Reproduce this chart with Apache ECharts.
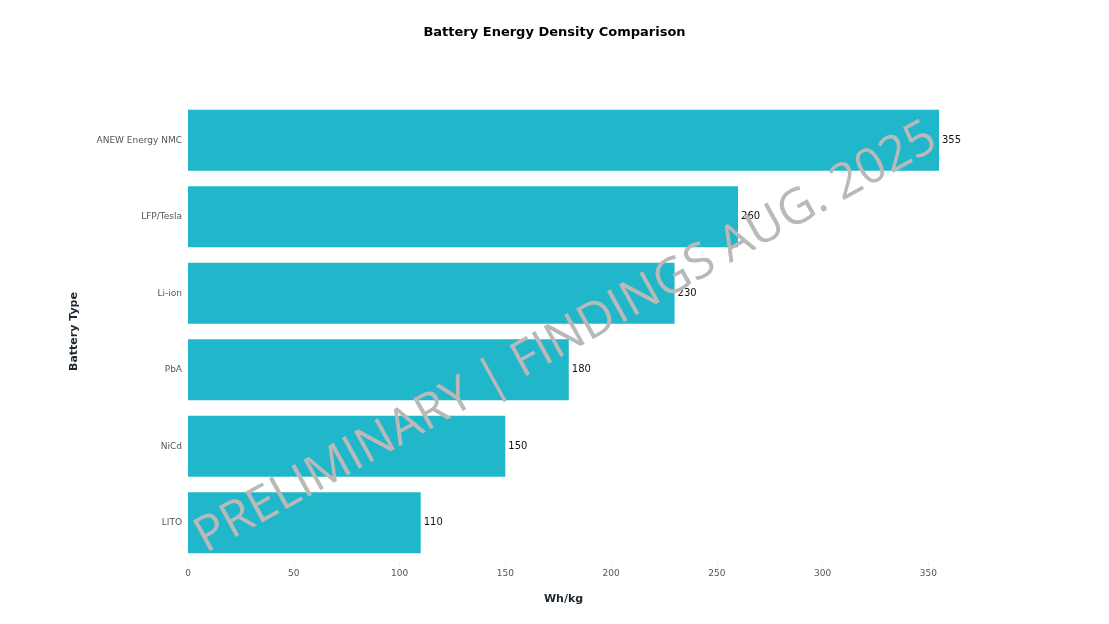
<!DOCTYPE html>
<html><head><meta charset="utf-8">
<script src="https://cdn.jsdelivr.net/npm/echarts@6/dist/echarts.min.js"></script>
<style>html,body{margin:0;padding:0;background:#fff}#c{width:1109px;height:624px}</style>
</head><body><div id="c"></div>
<script>
const categories = ["LITO", "NiCd", "PbA", "Li-ion", "LFP/Tesla", "ANEW Energy NMC"];
const values = [110, 150, 180, 230, 260, 355];
const xTicks = [0, 50, 100, 150, 200, 250, 300, 350];
const watermarkText = "PRELIMINARY | FINDINGS AUG. 2025";

const chart = echarts.init(document.getElementById('c'));
const font = "DejaVu Sans";
chart.setOption({
  backgroundColor: '#fff',
  animation: false,
  title: {
    text: 'Battery Energy Density Comparison',
    left: 'center', top: 21,
    textStyle: {fontFamily: font, fontSize: 13, fontWeight: 'bold', color: '#000'}
  },
  grid: {left: 188, right: 1109 - 939, top: 102, bottom: 624 - 561, containLabel: false},
  xAxis: {
    type: 'value', min: 0, max: 355, interval: 50,
    name: 'Wh/kg', nameLocation: 'middle', nameGap: 33,
    nameTextStyle: {fontFamily: font, fontSize: 11, fontWeight: 'bold', color: '#1c2833'},
    axisLine: {show: false},
    axisTick: {show: true, length: 4, lineStyle: {color: '#eee'}},
    splitLine: {show: false},
    axisLabel: {fontFamily: font, fontSize: 9, color: '#555', margin: 8, showMaxLabel: false,
      formatter: v => xTicks.includes(v) ? String(v) : ''}
  },
  yAxis: {
    type: 'category', data: categories,
    name: 'Battery Type', nameLocation: 'middle', nameGap: 108, nameRotate: 90,
    nameTextStyle: {fontFamily: font, fontSize: 11, fontWeight: 'bold', color: '#1c2833'},
    axisLine: {show: false}, axisTick: {show: false},
    axisLabel: {fontFamily: font, fontSize: 9, color: '#555', margin: 6}
  },
  series: [{
    type: 'bar', data: values, barCategoryGap: '20%',
    itemStyle: {color: '#21b7cb'},
    label: {show: true, position: 'right', distance: 3, fontFamily: font, fontSize: 10, color: '#111'}
  }],
  graphic: [{
    type: 'text', z: 100,
    x: 566, y: 338, rotation: 29 * Math.PI / 180,
    style: {text: watermarkText, fontFamily: 'Open Sans', fontSize: 49, fill: '#b9b9b9',
      textAlign: 'center', textVerticalAlign: 'middle'}
  }]
});
</script></body></html>
